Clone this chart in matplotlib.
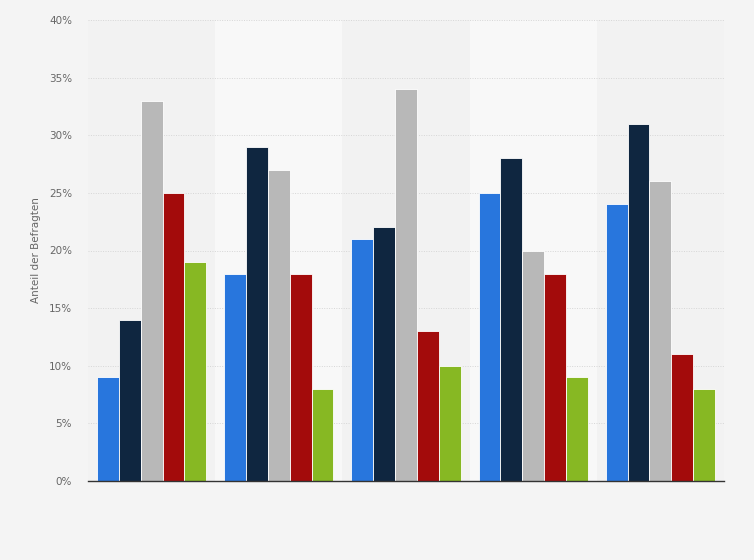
import matplotlib
matplotlib.use("Agg")
import matplotlib.pyplot as plt
import numpy as np

groups = ["1", "2", "3", "4", "5"]
series_a = [9, 18, 21, 25, 24]
series_b = [14, 29, 22, 28, 31]
series_c = [33, 27, 34, 20, 26]
series_d = [25, 18, 13, 18, 11]
series_e = [19, 8, 10, 9, 8]
series = [series_a, series_b, series_c, series_d, series_e]
colors = ["#2876dd", "#0f2640", "#b8b8b8", "#a30b0b", "#87b823"]
yticks = [0, 5, 10, 15, 20, 25, 30, 35, 40]
ylabels = ["0%", "5%", "10%", "15%", "20%", "25%", "30%", "35%", "40%"]

fig = plt.figure(figsize=(7.54, 5.6), dpi=100)
fig.patch.set_facecolor("#f4f4f4")
ax = fig.add_axes([88/754, 1-481/560, 636/754, 461/560])
ax.set_facecolor("#f2f2f2")

x = np.arange(len(groups))
for i in range(len(groups)):
    if i % 2 == 1:
        ax.axvspan(i-0.5, i+0.5, color="#f8f8f8", zorder=0, lw=0)

w = 0.172
for j, (vals, c) in enumerate(zip(series, colors)):
    ax.bar(x + (j-2)*w, vals, width=w, color=c, edgecolor="#ffffff", linewidth=0.6, zorder=3)

ax.set_xlim(-0.5, 4.5)
ax.set_ylim(0, 40)
ax.set_yticks(yticks)
ax.set_yticklabels(ylabels, fontsize=7.5, color="#666666")
ax.set_xticks([])
ax.yaxis.grid(True, linestyle=(0, (1, 1.5)), color="#d6d6d6", linewidth=0.7, zorder=1)
for s in ["top", "right", "left"]:
    ax.spines[s].set_visible(False)
ax.spines["bottom"].set_color("#333333")
ax.spines["bottom"].set_linewidth(1.0)
ax.spines["bottom"].set_zorder(4)
ax.tick_params(axis="y", length=0, pad=11.5)
ax.set_ylabel("Anteil der Befragten", fontsize=7.5, color="#666666", labelpad=6)

fig.savefig("out.png", dpi=100, facecolor=fig.get_facecolor())
